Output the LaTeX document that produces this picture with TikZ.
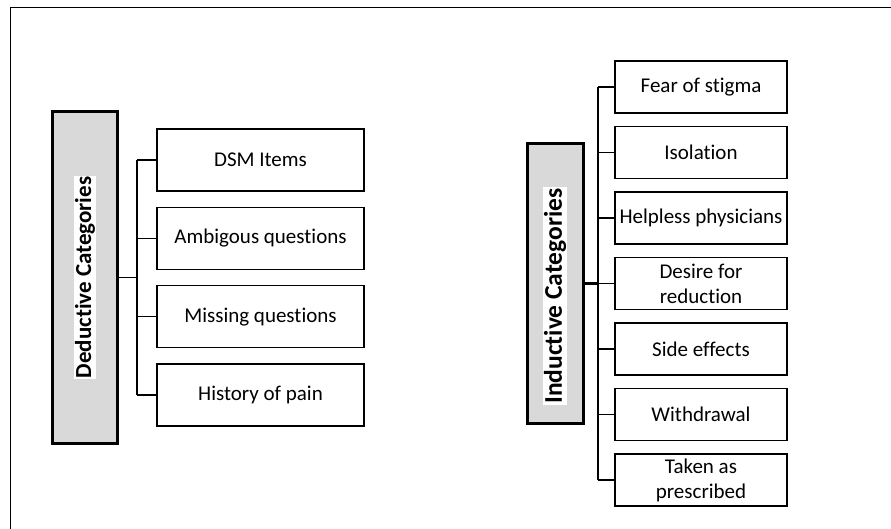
\documentclass[tikz,border=0pt]{standalone}
\usepackage{fontspec}
\setmainfont{Carlito}[Ligatures=CommonOff]

\begin{document}
\begin{tikzpicture}[x=1pt, y=-1pt,
  leafbox/.style={draw, line width=1.2pt, inner sep=0pt, align=center, font=\fontsize{21}{25}\selectfont},
  catbox/.style={draw, line width=3pt, fill=black!15, inner sep=0pt},
  catlabel/.style={fill=white, rotate=90, inner sep=1pt, font=\bfseries\fontsize{23}{26}\selectfont},
  branch/.style={line width=1.2pt}]
\useasboundingbox (0,0) rectangle (891,529);
\draw[line width=1pt] (10,529)--(10,8)--(891,8);
% deductive side
\node[catbox, minimum width=65pt, minimum height=331pt] (ded) at (85,277.5) {};
\node[catlabel] (dedlabel) at (ded.center) {Deductive Categories};
\node[leafbox, minimum width=207pt, minimum height=62pt] (d1) at (260.5,160) {DSM Items};
\node[leafbox, minimum width=207pt, minimum height=62pt] (d2) at (260.5,238.3) {Ambigous questions};
\node[leafbox, minimum width=207pt, minimum height=62pt] (d3) at (260.5,316.7) {Missing questions};
\node[leafbox, minimum width=207pt, minimum height=62pt] (d4) at (260.5,395) {History of pain};
\coordinate (dedspine) at (137,277.5);
\draw[line width=1.8pt] (ded.east)--(dedspine);
\draw[branch] (dedspine |- d1.west)--(dedspine |- d4.west);
\foreach \k in {1,...,4}
  \draw[branch] (dedspine |- d\k.west)--(d\k.west);
% inductive side
\node[catbox, minimum width=56pt, minimum height=279pt] (ind) at (555,283.5) {};
\node[catlabel, font=\bfseries\fontsize{25.5}{28}\selectfont] (indlabel) at (555,296) {Inductive Categories};
\node[leafbox, minimum width=172pt, minimum height=52pt] (i1) at (701,87) {Fear of stigma};
\node[leafbox, minimum width=172pt, minimum height=52pt] (i2) at (701,152.5) {Isolation};
\node[leafbox, minimum width=172pt, minimum height=52pt] (i3) at (701,218) {Helpless physicians};
\node[leafbox, minimum width=172pt, minimum height=52pt] (i4) at (701,283.5) {Desire for\\reduction};
\node[leafbox, minimum width=172pt, minimum height=52pt] (i5) at (701,349) {Side effects};
\node[leafbox, minimum width=172pt, minimum height=52pt] (i6) at (701,414.5) {Withdrawal};
\node[leafbox, minimum width=172pt, minimum height=52pt] (i7) at (701,480) {Taken as\\prescribed};
\coordinate (indspine) at (598,283.5);
\draw[line width=2.4pt] (ind.east)--(indspine);
\draw[branch] (indspine |- i1.west)--(indspine |- i7.west);
\foreach \k in {1,...,7}
  \draw[branch] (indspine |- i\k.west)--(i\k.west);
\end{tikzpicture}
\end{document}
